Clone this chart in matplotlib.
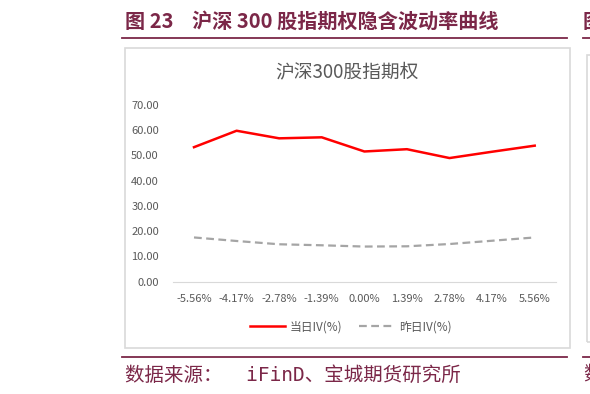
import matplotlib
matplotlib.use("Agg")
import matplotlib.pyplot as plt
from matplotlib.patches import Rectangle
from matplotlib.lines import Line2D

plt.rcParams['font.family'] = ['Noto Sans CJK SC', 'DejaVu Sans']

# 数据
moneyness = ['-5.56%', '-4.17%', '-2.78%', '-1.39%', '0.00%', '1.39%', '2.78%', '4.17%', '5.56%']
iv_today = [53.2, 59.7, 56.7, 57.1, 51.5, 52.4, 48.9, 51.4, 53.8]
iv_yesterday = [17.5, 16.1, 14.8, 14.4, 13.9, 14.0, 14.9, 16.2, 17.5]
yticks = [0, 10, 20, 30, 40, 50, 60, 70]

W, H = 590, 394
maroon = '#7b2748'
grey_txt = '#595959'

fig = plt.figure(figsize=(W / 100, H / 100), dpi=100)


def fx(px):
    return px / W


def fy(py):
    return 1 - py / H


# 外框
fig.patches.append(Rectangle((fx(125), fy(348)), fx(570) - fx(125), fy(48) - fy(348),
                             transform=fig.transFigure, fill=False,
                             edgecolor='#d9d9d9', linewidth=1.2))
fig.patches.append(Rectangle((fx(587), fy(342)), 0.1, fy(55) - fy(342),
                             transform=fig.transFigure, fill=False,
                             edgecolor='#d9d9d9', linewidth=1.2))

# 标题与分隔线
fig.text(fx(125), fy(21), '图 23    沪深 300 股指期权隐含波动率曲线', color=maroon,
         fontsize=14.5, fontweight='bold', va='center', ha='left')
fig.text(fx(583), fy(21), '图', color=maroon, fontsize=14.5, fontweight='bold',
         va='center', ha='left')
for x0, x1 in [(122, 567), (583, 590)]:
    fig.add_artist(Line2D([fx(x0), fx(x1)], [fy(38), fy(38)], color=maroon, lw=1.3))
    fig.add_artist(Line2D([fx(x0), fx(x1)], [fy(357), fy(357)], color=maroon, lw=1.3))

src_family = ['DejaVu Sans Mono', 'Noto Sans CJK SC']
fig.text(fx(125), fy(375), '数据来源：  iFinD、宝城期货研究所', color=maroon,
         fontsize=14, va='center', ha='left', family=src_family)
fig.text(fx(583), fy(375), '数', color=maroon, fontsize=14, va='center', ha='left',
         family=src_family)

# 图表标题
fig.text(fx(347), fy(72), '沪深300股指期权', color=grey_txt, fontsize=13.5,
         va='center', ha='center')

ax = fig.add_axes([fx(172.7), fy(281.7), fx(556) - fx(172.7), fy(104.7) - fy(281.7)])
x = range(len(moneyness))
ax.plot(x, iv_today, color='#ff0000', lw=1.8, label='当日IV(%)')
ax.plot(x, iv_yesterday, color='#a5a5a5', lw=1.6, ls=(0, (3.5, 2)), label='昨日IV(%)')

ax.set_xlim(-0.5, len(moneyness) - 0.5)
ax.set_ylim(0, 70)
ax.set_yticks(yticks)
ax.set_yticklabels([f'{v:.2f}' for v in yticks])
ax.set_xticks(list(x))
ax.set_xticklabels(moneyness)
ax.tick_params(axis='both', length=0, labelsize=8, labelcolor=grey_txt)
ax.tick_params(axis='y', pad=10)
ax.tick_params(axis='x', pad=9)
for s in ['top', 'right', 'left']:
    ax.spines[s].set_visible(False)
ax.spines['bottom'].set_color('#d9d9d9')
ax.patch.set_alpha(0)

fig.legend(loc='center', bbox_to_anchor=(fx(351), fy(327)), ncol=2, frameon=False,
           fontsize=8.5, labelcolor=grey_txt, handlelength=3.0, columnspacing=1.4,
           handletextpad=0.4)

fig.savefig('out.png', dpi=100)
